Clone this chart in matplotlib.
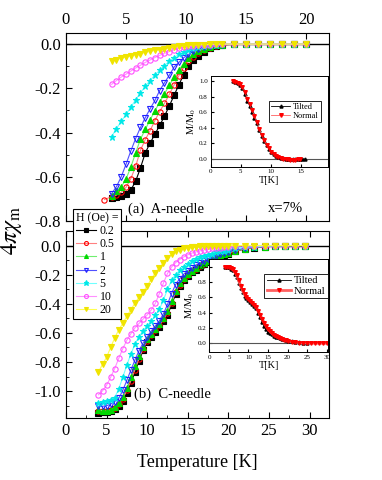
import numpy as np
import matplotlib.pyplot as plt
from matplotlib.ticker import MultipleLocator, FormatStrFormatter

plt.rcParams['font.family'] = ['Liberation Serif', 'DejaVu Serif']
plt.rcParams['mathtext.fontset'] = 'stix'
plt.rcParams['axes.unicode_minus'] = False

nan = np.nan

# field values (Oe) for the legend
fields = ['0.2', '0.5', '1', '2', '5', '10', '20']

# (a) A-needle, 4*pi*chi vs T
a_T = [3.2, 3.8, 4.2, 4.6, 5.0, 5.4, 5.8, 6.2, 6.6, 7.0, 7.4, 7.8, 8.2, 8.6, 9.0, 9.4,
       9.8, 10.2, 10.6, 11.0, 11.5, 12.0, 12.5, 13.0, 14.0, 15.0, 16.0, 17.0, 18.0, 19.0, 20.0]
a_02 = [nan, -0.698, -0.693, -0.686, -0.676, -0.660, -0.620, -0.560, -0.492, -0.448, -0.408,
        -0.368, -0.326, -0.280, -0.232, -0.184, -0.138, -0.100, -0.071, -0.052, -0.034, -0.019,
        -0.009, -0.004, -0.001, 0, 0, 0, 0, 0, 0]
a_05 = [-0.703, -0.690, -0.683, -0.670, -0.648, -0.608, -0.553, -0.480, -0.432, -0.392, -0.346,
        -0.305, -0.268, -0.228, -0.185, -0.143, -0.107, -0.078, -0.057, -0.042, -0.028, -0.016,
        -0.008, -0.004, -0.001, 0, 0, 0, 0, 0, 0]
a_1 = [nan, -0.686, -0.664, -0.646, -0.610, -0.556, -0.492, -0.430, -0.386, -0.343, -0.302,
       -0.263, -0.225, -0.187, -0.150, -0.117, -0.088, -0.063, -0.046, -0.033, -0.021, -0.012,
       -0.006, -0.003, 0, 0, 0, 0, 0, 0, 0]
a_2 = [nan, -0.676, -0.645, -0.600, -0.543, -0.483, -0.427, -0.377, -0.333, -0.293, -0.255,
       -0.210, -0.175, -0.141, -0.104, -0.083, -0.062, -0.047, -0.033, -0.023, -0.014, -0.008,
       -0.004, -0.002, 0, 0, 0, 0, 0, 0, 0]
a_5 = [nan, -0.418, -0.382, -0.350, -0.318, -0.285, -0.252, -0.220, -0.191, -0.165, -0.140,
       -0.118, -0.097, -0.078, -0.061, -0.047, -0.036, -0.026, -0.018, -0.012, -0.007, -0.004,
       -0.002, -0.001, 0, 0, 0, 0, 0, 0, 0]
a_10 = [nan, -0.182, -0.165, -0.149, -0.136, -0.122, -0.108, -0.096, -0.083, -0.072, -0.061,
        -0.051, -0.042, -0.034, -0.026, -0.020, -0.014, -0.010, -0.007, -0.005, -0.003, -0.002,
        -0.001, 0, 0, 0, 0, 0, 0, 0, 0]
a_20 = [nan, -0.077, -0.070, -0.064, -0.059, -0.053, -0.048, -0.043, -0.038, -0.033, -0.029,
        -0.025, -0.021, -0.017, -0.014, -0.011, -0.008, -0.006, -0.004, -0.003, -0.002, -0.001,
        0, 0, 0, 0, 0, 0, 0, 0, 0]

# (b) C-needle
c_T = [4.0, 4.5, 5.0, 5.5, 6.0, 6.5, 7.0, 7.5, 8.0, 8.5, 9.0, 9.5, 10.0, 10.5, 11.0, 11.5,
       12.0, 12.5, 13.0, 13.5, 14.0, 14.5, 15.0, 15.5, 16.0, 16.5, 17.0, 17.5, 18.0, 18.5,
       19.0, 19.5, 20.0, 20.8, 22.0, 23.2, 24.5, 25.8, 27.0, 28.2, 29.5]
c_02 = [-1.148, -1.146, -1.143, -1.135, -1.122, -1.100, -1.065, -1.010, -0.945, -0.868, -0.793,
        -0.720, -0.665, -0.625, -0.592, -0.558, -0.520, -0.478, -0.408, -0.336, -0.280, -0.238,
        -0.208, -0.185, -0.166, -0.146, -0.128, -0.112, -0.098, -0.085, -0.074, -0.064, -0.055,
        -0.040, -0.024, -0.014, -0.008, -0.004, -0.002, -0.001, 0.0]
c_05 = [-1.140, -1.140, -1.137, -1.130, -1.115, -1.090, -1.052, -0.995, -0.928, -0.852, -0.778,
        -0.708, -0.655, -0.615, -0.582, -0.548, -0.508, -0.462, -0.392, -0.322, -0.268, -0.228,
        -0.200, -0.178, -0.160, -0.141, -0.124, -0.108, -0.094, -0.082, -0.071, -0.061, -0.052,
        -0.038, -0.022, -0.013, -0.007, -0.004, -0.002, -0.001, 0.0]
c_1 = [-1.128, -1.135, -1.138, -1.130, -1.112, -1.082, -1.038, -0.978, -0.905, -0.830, -0.760,
       -0.695, -0.645, -0.605, -0.573, -0.540, -0.498, -0.448, -0.378, -0.310, -0.258, -0.220,
       -0.193, -0.172, -0.154, -0.136, -0.120, -0.105, -0.091, -0.079, -0.068, -0.059, -0.050,
       -0.036, -0.021, -0.012, -0.007, -0.004, -0.002, -0.001, 0.0]
c_2 = [-1.105, -1.105, -1.100, -1.090, -1.072, -1.050, -0.995, -0.925, -0.855, -0.785, -0.722,
       -0.670, -0.628, -0.588, -0.553, -0.518, -0.470, -0.405, -0.330, -0.268, -0.228, -0.198,
       -0.172, -0.152, -0.134, -0.118, -0.104, -0.092, -0.080, -0.070, -0.061, -0.052, -0.045,
       -0.032, -0.019, -0.011, -0.006, -0.003, -0.002, -0.001, 0.0]
c_5 = [-1.085, -1.078, -1.070, -1.062, -1.045, -0.985, -0.905, -0.820, -0.745, -0.676, -0.625,
       -0.585, -0.552, -0.518, -0.480, -0.438, -0.375, -0.300, -0.240, -0.200, -0.170, -0.145,
       -0.125, -0.108, -0.094, -0.082, -0.072, -0.063, -0.055, -0.047, -0.040, -0.034, -0.029,
       -0.020, -0.012, -0.007, -0.004, -0.002, -0.001, 0.0, 0.0]
c_10 = [-1.025, -0.998, -0.960, -0.905, -0.845, -0.775, -0.708, -0.650, -0.605, -0.565, -0.535,
        -0.505, -0.477, -0.442, -0.398, -0.330, -0.258, -0.192, -0.148, -0.118, -0.096, -0.078,
        -0.063, -0.052, -0.043, -0.036, -0.030, -0.025, -0.020, -0.017, -0.014, -0.011, -0.009,
        -0.006, -0.003, -0.002, -0.001, 0.0, 0.0, 0.0, 0.0]
c_20 = [-0.870, -0.815, -0.768, -0.700, -0.635, -0.578, -0.535, -0.485, -0.440, -0.395, -0.355,
        -0.318, -0.278, -0.230, -0.188, -0.152, -0.120, -0.085, -0.058, -0.040, -0.028, -0.020,
        -0.014, -0.010, -0.007, -0.005, -0.004, -0.003, -0.002, -0.001, -0.001, 0.0, 0.0,
        0.0, 0.0, 0.0, 0.0, 0.0, 0.0, 0.0, 0.0]

# insets: M/M0 vs T, tilted vs normal
ia_T = [3.7, 4.1, 4.5, 4.9, 5.3, 5.7, 6.1, 6.5, 6.9, 7.3, 7.7, 8.1, 8.5, 8.9, 9.3, 9.7, 10.1,
        10.5, 10.9, 11.3, 11.7, 12.1, 12.5, 12.9, 13.3, 13.7, 14.1, 14.5, 14.9, 15.3, 15.7]
ia_tilted = [1.00, 0.985, 0.975, 0.955, 0.91, 0.84, 0.75, 0.68, 0.605, 0.53, 0.455, 0.37, 0.295,
             0.232, 0.175, 0.127, 0.09, 0.062, 0.04, 0.025, 0.015, 0.008, 0.004, 0.002, 0.0,
             0.0, 0.0, 0.0, 0.0, 0.0, 0.0]
ia_normal = [1.00, 0.99, 0.98, 0.965, 0.93, 0.86, 0.77, 0.70, 0.625, 0.55, 0.475, 0.39, 0.31,
             0.245, 0.185, 0.135, 0.095, 0.065, 0.042, 0.026, 0.014, 0.005, 0.0, -0.005, -0.008,
             -0.008, -0.008, -0.006, -0.005, nan, nan]

ic_T = [4.0, 4.5, 5.0, 5.5, 6.0, 6.5, 7.0, 7.5, 8.0, 8.5, 9.0, 9.5, 10.0, 10.5, 11.0, 11.5,
        12.0, 12.5, 13.0, 13.5, 14.0, 14.5, 15.0, 15.5, 16.0, 16.5, 17.0, 17.5, 18.0, 18.5,
        19.0, 19.5, 20.0, 21, 22, 23, 24, 25, 26, 27, 28, 29, 30]
ic_tilted = [1.00, 0.995, 0.99, 0.975, 0.95, 0.91, 0.86, 0.79, 0.72, 0.665, 0.62, 0.585, 0.56,
             0.54, 0.515, 0.49, 0.455, 0.40, 0.34, 0.28, 0.225, 0.18, 0.15, 0.13, 0.115, 0.10,
             0.088, 0.077, 0.067, 0.058, 0.05, 0.043, 0.036, 0.027, 0.019, 0.013, 0.009, 0.007,
             nan, nan, nan, nan, nan]
ic_normal = [1.00, 1.00, 0.995, 0.985, 0.965, 0.93, 0.89, 0.82, 0.75, 0.69, 0.64, 0.60, 0.575,
             0.555, 0.53, 0.505, 0.47, 0.42, 0.37, 0.32, 0.27, 0.225, 0.185, 0.155, 0.13, 0.11,
             0.092, 0.078, 0.066, 0.055, 0.046, 0.038, 0.031, 0.022, 0.015, 0.01, 0.006, 0.004,
             0.002, 0.001, 0.0, 0.0, 0.0]

# styles
mk_col = ['black', 'red', '#00d800', '#2020ff', '#00e8e8', '#ff50ff', '#f0e400']
ln_col = ['black', '#ff8080', '#70ee70', '#5050ff', '#70ffff', '#ff90ff', '#ffff50']
mk = ['s', 'o', '^', 'v', '*', 'o', 'v']
fill = [True, False, True, False, True, False, True]


def draw_set(ax, T, curves):
    for i, y in enumerate(curves):
        ax.plot(T, y, color=ln_col[i], lw=0.8, marker=mk[i], ms=3.8 if mk[i] != '*' else 5,
                mfc=mk_col[i] if fill[i] else 'none', mec=mk_col[i], mew=0.8, label=fields[i])


def style_main(ax):
    ax.tick_params(which='both', direction='in', labelsize=12)
    ax.tick_params(which='major', length=4)
    ax.tick_params(which='minor', length=2.5)
    ax.yaxis.set_major_locator(MultipleLocator(0.2))
    ax.yaxis.set_minor_locator(MultipleLocator(0.1))
    ax.yaxis.set_major_formatter(FormatStrFormatter('%.1f'))
    ax.xaxis.set_major_locator(MultipleLocator(5))
    ax.xaxis.set_minor_locator(MultipleLocator(2.5))
    ax.axhline(0, color='black', lw=1.0, zorder=1)


fig = plt.figure(figsize=(3.82, 4.80), dpi=100)

ax_a = fig.add_axes([66/382, 1-221/480, 263/382, 188/480])
draw_set(ax_a, a_T, [a_02, a_05, a_1, a_2, a_5, a_10, a_20])
style_main(ax_a)
ax_a.set_xlim(0, 21.9)
ax_a.set_ylim(-0.8, 0.05)
ax_a.tick_params(top=True, labeltop=True, bottom=True, labelbottom=False)
ax_a.text(8.3, -0.745, '(a)  A-needle', ha='center', va='center', fontsize=10.5)
ax_a.text(18.3, -0.745, 'x=7%', ha='center', va='center', fontsize=10.5)

ax_c = fig.add_axes([66/382, 1-418/480, 263/382, 187/480])
draw_set(ax_c, c_T, [c_02, c_05, c_1, c_2, c_5, c_10, c_20])
style_main(ax_c)
ax_c.set_xlim(0, 32.4)
ax_c.set_ylim(-1.185, 0.1)
ax_c.tick_params(top=True)
ax_c.set_xlabel('Temperature [K]', fontsize=13, labelpad=11)
ax_c.text(13.1, -1.02, '(b)  C-needle', ha='center', va='center', fontsize=10.5)

fig.text(0.03, 0.52, r'$4\pi\chi_{\rm m}$', rotation=90, ha='center', va='center', fontsize=17)

h, l = ax_a.get_legend_handles_labels()
leg = fig.legend(h, l, loc='upper left', bbox_to_anchor=(73/382, 1-209/480), title='H (Oe) =',
                 fontsize=8.5, title_fontsize=8.5, numpoints=1, markerscale=0.75,
                 handlelength=1.7, handletextpad=0.3, labelspacing=0.1, borderpad=0.25,
                 borderaxespad=0, fancybox=False, edgecolor='black', framealpha=1,
                 alignment='left')
leg.get_frame().set_linewidth(0.8)


def draw_inset(rect, T, tilted, normal, xmax, ylim, leg_anchor, leg_fs, normal_lw):
    ax = fig.add_axes(rect, zorder=3)
    ax.set_facecolor('white')
    ax.axhline(0, color='#555555', lw=0.8)
    ax.plot(T, tilted, color='black', lw=0.6, marker='^', ms=2.2, label='Tilted')
    ax.plot(T, normal, color='#ff6060', lw=normal_lw, marker='v', ms=2.6, mfc='red', mec='red',
            label='Normal')
    ax.set_xlim(0, xmax)
    ax.set_ylim(*ylim)
    ax.xaxis.set_major_locator(MultipleLocator(5))
    ax.yaxis.set_major_locator(MultipleLocator(0.2))
    ax.yaxis.set_major_formatter(FormatStrFormatter('%.1f'))
    ax.tick_params(direction='in', labelsize=5, length=2, pad=2)
    ax.set_xlabel('T[K]', fontsize=7.5, labelpad=1)
    ax.set_ylabel(r'M/M$_0$', fontsize=7.5, labelpad=1)
    for s in ax.spines.values():
        s.set_linewidth(0.7)
    lg = ax.legend(loc='upper left', bbox_to_anchor=leg_anchor, fontsize=leg_fs, numpoints=1,
                   handlelength=2.3, handletextpad=0.3, labelspacing=0.1, borderpad=0.25,
                   fancybox=False, edgecolor='black', framealpha=1)
    lg.get_frame().set_linewidth(0.6)
    return ax


draw_inset([210.7/382, 1-166.7/480, 117.6/382, 90.7/480], ia_T, ia_tilted, ia_normal,
           19.6, (-0.1, 1.065), (0.46, 0.77), 6, 0.6)
draw_inset([209.3/382, 1-352/480, 119/382, 93/480], ic_T, ic_tilted, ic_normal,
           30.4, (-0.114, 1.10), (0.42, 0.9), 7.5, 2.0)

fig.savefig('out.png', dpi=100)
